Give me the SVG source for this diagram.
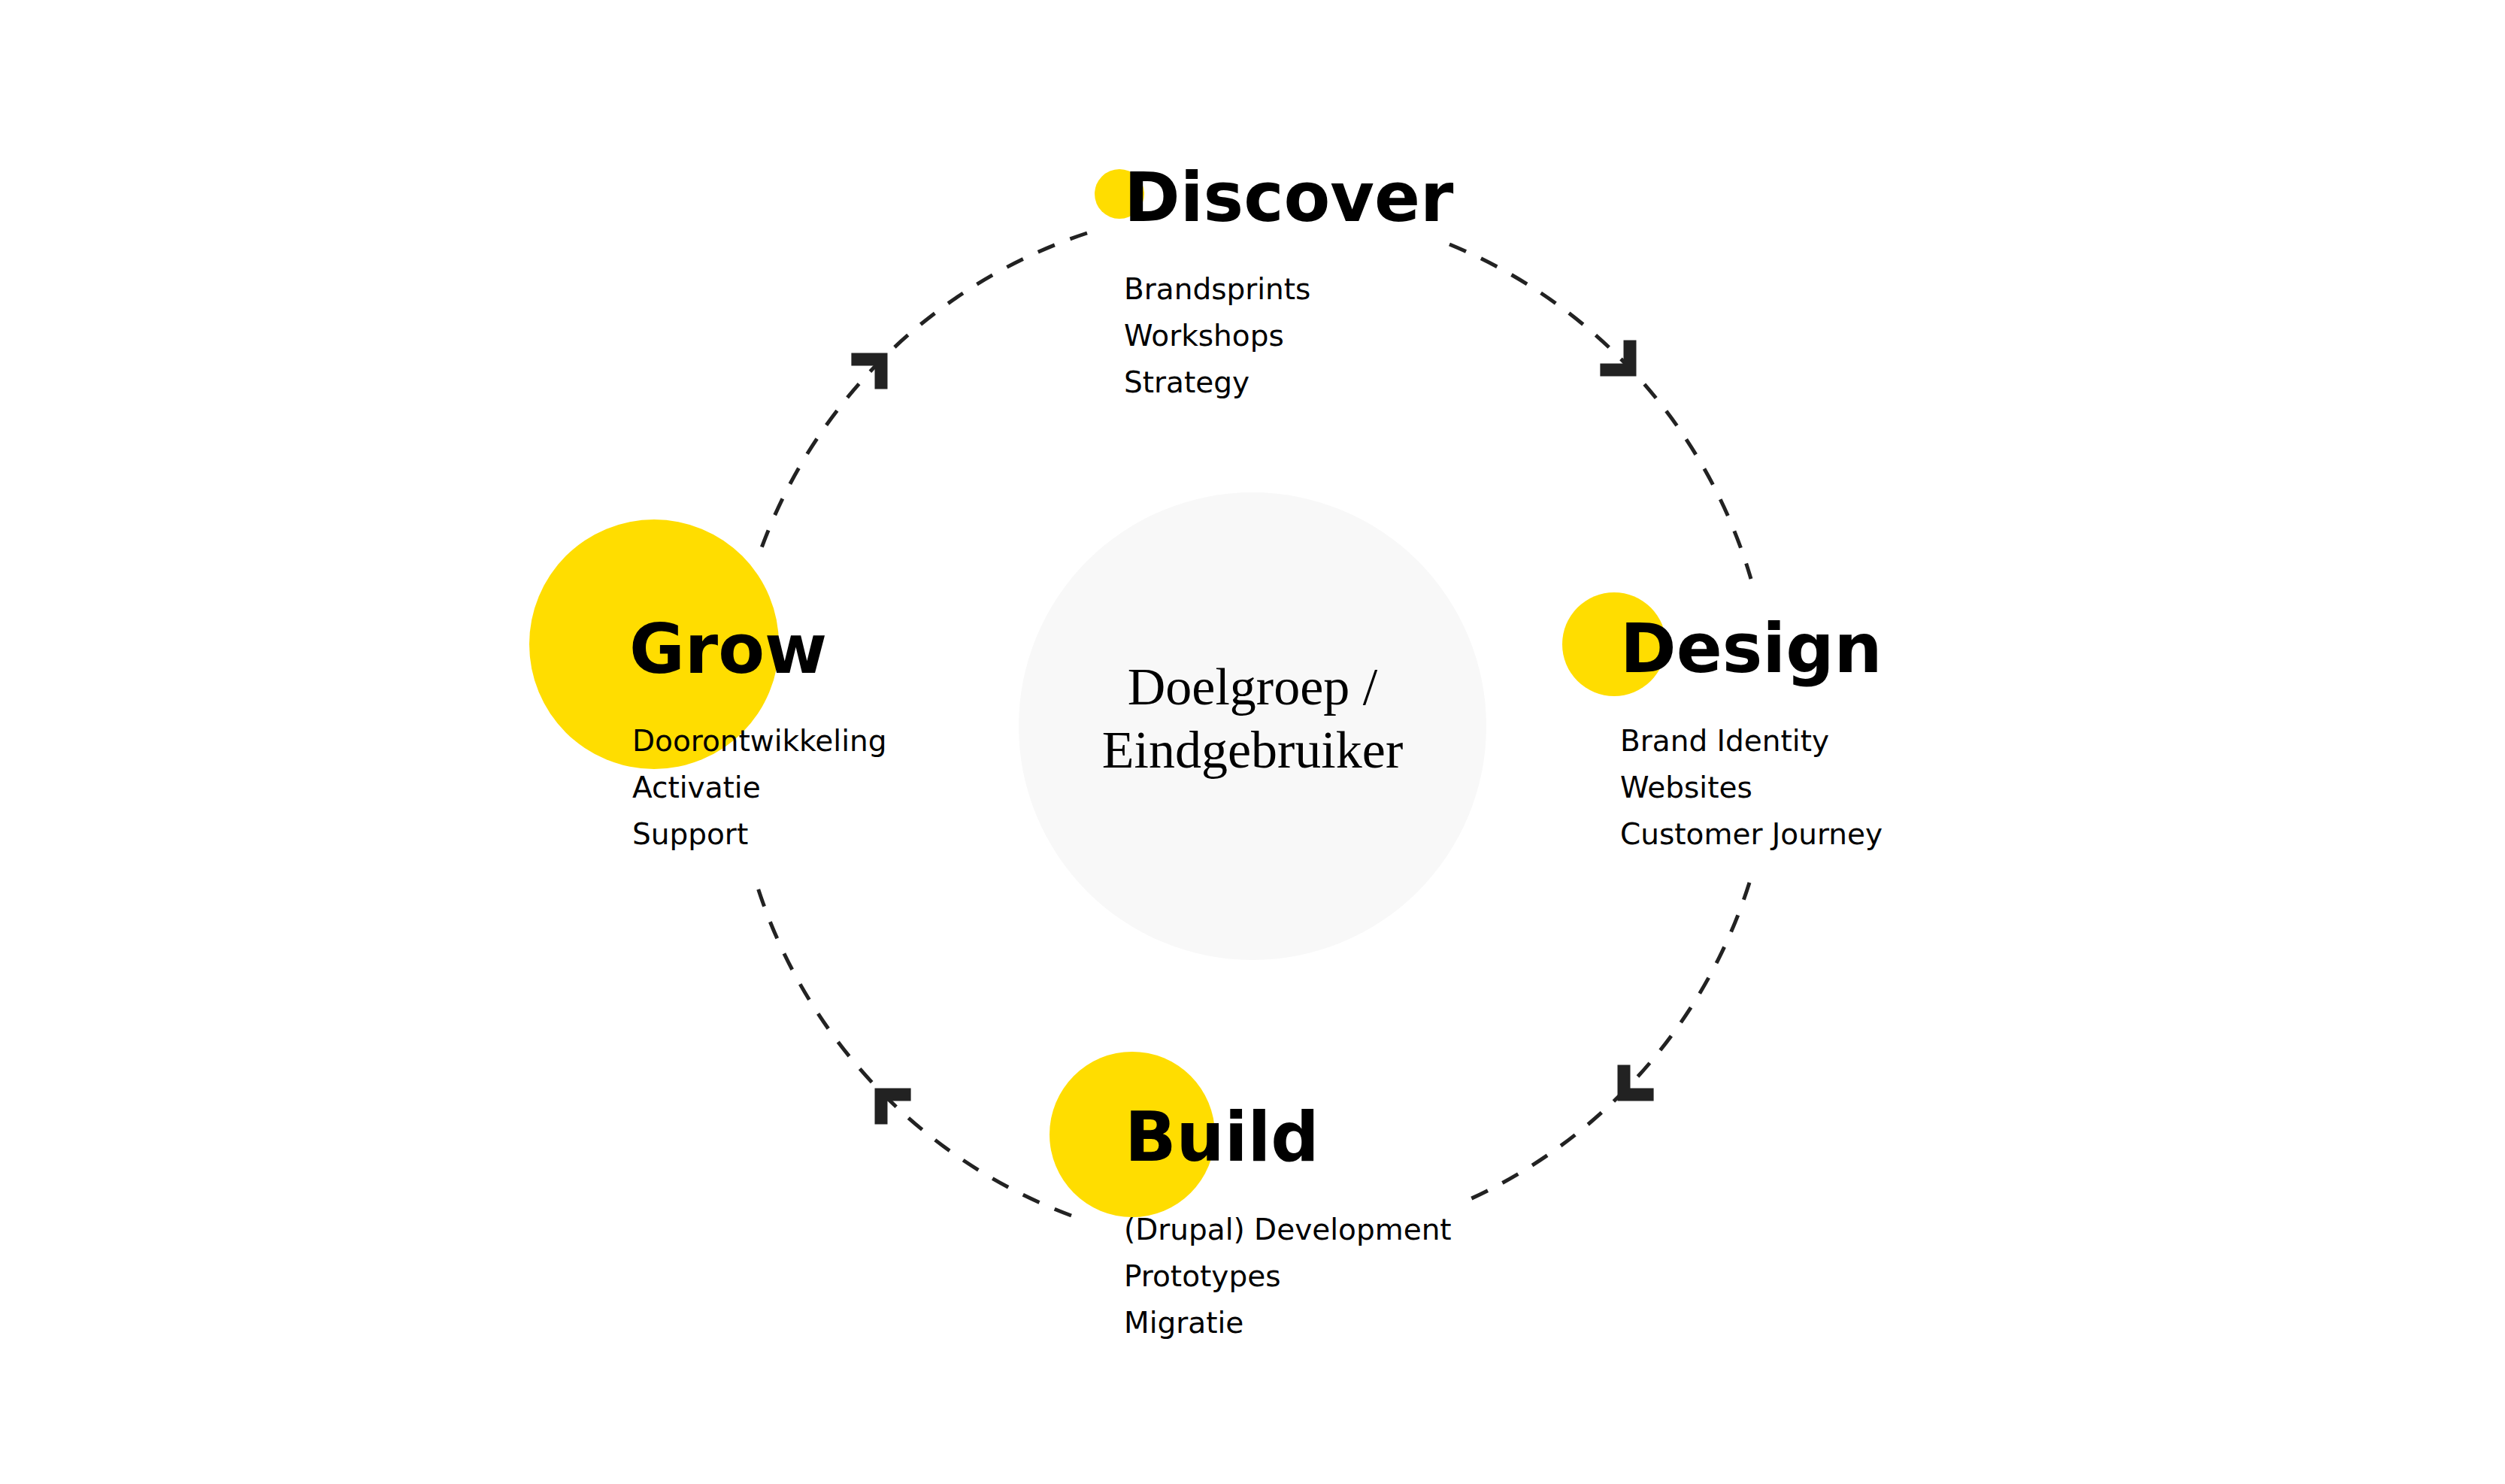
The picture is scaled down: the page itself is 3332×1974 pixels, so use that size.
<svg xmlns="http://www.w3.org/2000/svg" width="3332" height="1974" viewBox="0 0 3332 1974">
<style>
.y{fill:#FFDD00}
.t{font-family:"DejaVu Sans","Liberation Sans",sans-serif;font-weight:bold;font-size:90px;fill:#000}
.s{font-family:"DejaVu Sans","Liberation Sans",sans-serif;font-size:39px;fill:#000}
.c{font-family:"Liberation Serif","DejaVu Serif",serif;font-size:70px;fill:#000;text-anchor:middle}
.d{fill:none;stroke:#222;stroke-width:5;stroke-dasharray:24 22}
.a{fill:none;stroke:#222;stroke-width:17;stroke-linejoin:miter;stroke-linecap:butt}
</style>
<defs><path id="chev" d="M-28,-28 L0,0 L-28,28"/></defs>
<rect width="3332" height="1974" fill="#fff"/>
<g id="connectors">
<path class="d" d="M1446,310 A692,692 0 0 0 1010,737"/>
<path class="d" d="M1928,325 A692,692 0 0 1 2329,770"/>
<path class="d" d="M2327,1174 A692,692 0 0 1 1951,1597"/>
<path class="d" d="M1425,1617 A692,692 0 0 1 1004,1168"/>
<use href="#chev" class="a" transform="translate(1172,478) rotate(-45)"/>
<use href="#chev" class="a" transform="translate(2168,492) rotate(45)"/>
<use href="#chev" class="a" transform="translate(2160,1456) rotate(135)"/>
<use href="#chev" class="a" transform="translate(1172,1456) rotate(-135)"/>
</g>
<g id="center">
<circle cx="1666" cy="966" r="311" fill="#f8f8f8"/>
<text class="c" x="1666" y="937">Doelgroep /</text>
<text class="c" x="1666" y="1021">Eindgebruiker</text>
</g>
<g id="discover">
<circle class="y" cx="1489" cy="258" r="33"/>
<text class="t" x="1495" y="294">Discover</text>
<text class="s" x="1495" y="398">Brandsprints</text>
<text class="s" x="1495" y="460">Workshops</text>
<text class="s" x="1495" y="522">Strategy</text>
</g>
<g id="design">
<circle class="y" cx="2147" cy="857" r="69"/>
<text class="t" x="2155" y="894">Design</text>
<text class="s" x="2155" y="999">Brand Identity</text>
<text class="s" x="2155" y="1061">Websites</text>
<text class="s" x="2155" y="1123">Customer Journey</text>
</g>
<g id="build">
<circle class="y" cx="1506" cy="1509" r="110"/>
<text class="t" x="1496" y="1544">Build</text>
<text class="s" x="1495" y="1649">(Drupal) Development</text>
<text class="s" x="1495" y="1711">Prototypes</text>
<text class="s" x="1495" y="1773">Migratie</text>
</g>
<g id="grow">
<circle class="y" cx="870" cy="857" r="166"/>
<text class="t" x="837" y="895">Grow</text>
<text class="s" x="841" y="999">Doorontwikkeling</text>
<text class="s" x="841" y="1061">Activatie</text>
<text class="s" x="841" y="1123">Support</text>
</g>
</svg>
